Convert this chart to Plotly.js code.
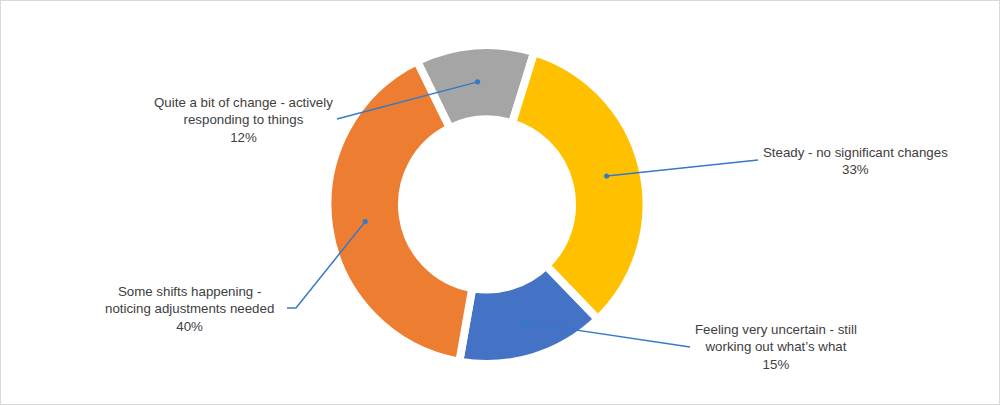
<!DOCTYPE html>
<html>
<head>
<meta charset="utf-8">
<script src="https://cdn.plot.ly/plotly-3.0.1.min.js"></script>
<style>
  html, body { margin: 0; padding: 0; background: #ffffff; }
  #wrap { position: relative; width: 1000px; height: 405px; }
  #chart { width: 1000px; height: 405px; }
  #frame { position: absolute; left: 0; top: 0; width: 1000px; height: 405px; box-sizing: border-box; border: 1px solid #D9D9D9; pointer-events: none; }
</style>
</head>
<body>
<div id="wrap"><div id="chart"></div><div id="frame"></div></div>
<script>
// ---- data ----
const categories = [
  "Quite a bit of change - actively responding to things",
  "Steady - no significant changes",
  "Feeling very uncertain - still working out what\u2019s what",
  "Some shifts happening - noticing adjustments needed"
];
const labelLines = [
  ["Quite a bit of change - actively", "responding to things"],
  ["Steady - no significant changes"],
  ["Feeling very uncertain - still", "working out what\u2019s what"],
  ["Some shifts happening -", "noticing adjustments needed"]
];
const values = [12, 33, 15, 40];
const colors = ["#A5A5A5", "#FFC000", "#4472C4", "#ED7D31"];

// ---- layout constants ----
const W = 1000, H = 405;
const cx = 487, cy = 204.5;      // donut centre in px
const Rp = 159.5;                // pie radius in px
const rotation = -26;
const dotR = 123;                // leader-line dot radius (px)
// label centre positions (px) and leader-line text-side points (px)
const labelPos = [[243, 120], [855, 161], [776, 347], [189.5, 309]];
const leaderStart = [[[337, 119]], [[758, 160]], [[690, 347]], [[287, 308], [296, 308]]];

const total = values.reduce((a, b) => a + b, 0);
const px2x = p => p / W;
const px2y = p => 1 - p / H;

const pie = {
  type: "pie",
  labels: categories,
  values: values,
  sort: false,
  direction: "clockwise",
  rotation: rotation,
  hole: 0.533,
  textinfo: "none",
  hoverinfo: "skip",
  marker: { colors: colors, line: { color: "#ffffff", width: 8 } },
  domain: { x: [px2x(cx - Rp), px2x(cx + Rp)], y: [px2y(cy + Rp), px2y(cy - Rp)] },
  showlegend: false
};

const shapes = [];
const annotations = [];
let cum = 0;
values.forEach((v, i) => {
  const mid = rotation + (cum + v / 2) / total * 360;
  cum += v;
  const a = mid * Math.PI / 180;
  const dx = cx + dotR * Math.sin(a);
  const dy = cy - dotR * Math.cos(a);
  const pts = leaderStart[i].concat([[dx, dy]]);
  let path = "";
  pts.forEach((p, k) => { path += (k === 0 ? "M" : "L") + px2x(p[0]) + "," + px2y(p[1]) + " "; });
  shapes.push({ type: "path", xref: "paper", yref: "paper", path: path.trim(),
    line: { color: "#3579C9", width: 1.5 } });
  shapes.push({ type: "circle", xref: "paper", yref: "paper", xsizemode: "pixel", ysizemode: "pixel",
    xanchor: px2x(dx), yanchor: px2y(dy), x0: -2.6, x1: 2.6, y0: -2.6, y1: 2.6,
    fillcolor: "#3579C9", line: { width: 0 } });
  const pct = Math.round(v / total * 100) + "%";
  annotations.push({
    xref: "paper", yref: "paper", x: px2x(labelPos[i][0]), y: px2y(labelPos[i][1]),
    xanchor: "center", yanchor: "middle", showarrow: false, align: "center",
    text: labelLines[i].concat([pct]).join("<br>"),
    font: { family: "Liberation Sans, Arial, sans-serif", size: 13.3, color: "#404040" }
  });
});

const layout = {
  width: W, height: H,
  margin: { l: 0, r: 0, t: 0, b: 0 },
  paper_bgcolor: "#ffffff",
  plot_bgcolor: "#ffffff",
  showlegend: false,
  shapes: shapes,
  annotations: annotations
};

Plotly.newPlot("chart", [pie], layout, { staticPlot: true, displayModeBar: false });
</script>
</body>
</html>
